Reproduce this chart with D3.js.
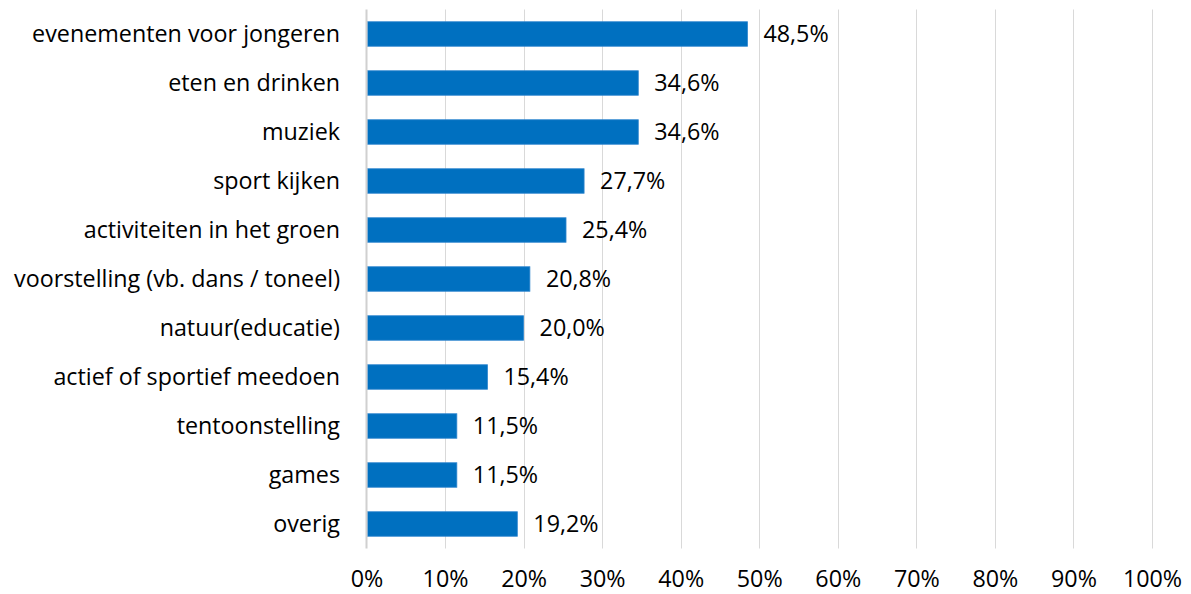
<!DOCTYPE html>
<html><head><meta charset="utf-8">
<script src="https://cdn.jsdelivr.net/npm/d3@7"></script>
<style>html,body{margin:0;padding:0;background:#fff;}svg{display:block;}</style>
</head><body>
<svg id="chart" width="1191" height="594"></svg>
<script>
const categories = ["evenementen voor jongeren","eten en drinken","muziek","sport kijken","activiteiten in het groen","voorstelling (vb. dans / toneel)","natuur(educatie)","actief of sportief meedoen","tentoonstelling","games","overig"];
const values = [48.5,34.6,34.6,27.7,25.4,20.8,20.0,15.4,11.5,11.5,19.2];
const tickValues = [0,10,20,30,40,50,60,70,80,90,100];

const svg = d3.select("#chart");
const font = "'Open Sans', sans-serif";
const fs = 23.3;
const x = d3.scaleLinear().domain([0,100]).range([366.5,1152]);
const y = d3.scaleBand().domain(categories).range([9.5,548.5]).paddingInner(0.5).paddingOuter(0.25);

// gridlines
svg.append("g").selectAll("line").data(tickValues.slice(1)).join("line")
  .attr("x1", d=>Math.round(x(d))+0.5).attr("x2", d=>Math.round(x(d))+0.5)
  .attr("y1", 9.5).attr("y2", 548.5)
  .attr("stroke", "#D9D9D9").attr("stroke-width", 1);

// bars
svg.append("g").selectAll("rect").data(values).join("rect")
  .attr("x", x(0)+1).attr("y", (d,i)=>y(categories[i]))
  .attr("width", d=>x(d)-x(0)-1).attr("height", y.bandwidth())
  .attr("fill", "#0070C0").attr("stroke", "#2F86CE").attr("stroke-width", 0.8);

// 0 axis line
svg.append("line").attr("x1", x(0)).attr("x2", x(0)).attr("y1", 9.5).attr("y2", 548.5)
  .attr("stroke", "#D0D0D0").attr("stroke-width", 2);

// value labels
svg.append("g").selectAll("text").data(values).join("text")
  .attr("x", d=>x(d)+16).attr("y", (d,i)=>y(categories[i])+y.bandwidth()/2)
  .attr("dy", "0.36em").attr("font-family", font).attr("font-size", fs).attr("fill", "#000")
  .text(d=>d.toFixed(1).replace(".", ",") + "%");

// category labels
svg.append("g").selectAll("text").data(categories).join("text")
  .attr("x", 340).attr("y", d=>y(d)+y.bandwidth()/2)
  .attr("dy", "0.36em").attr("text-anchor", "end")
  .attr("font-family", font).attr("font-size", fs).attr("fill", "#000")
  .text(d=>d);

// x axis labels
const xAxis = d3.axisBottom(x).tickValues(tickValues).tickSize(0).tickPadding(0).tickFormat(d=>d+"%");
const gx = svg.append("g").attr("transform", "translate(0,587)").call(xAxis);
gx.select(".domain").remove();
gx.selectAll("text").attr("font-family", font).attr("font-size", fs).attr("fill", "#000").attr("dy", "0");
</script>
</body></html>
